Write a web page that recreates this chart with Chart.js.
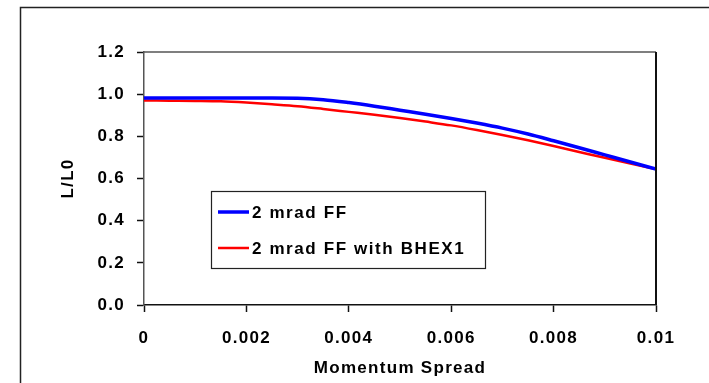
<!DOCTYPE html>
<html>
<head>
<meta charset="utf-8">
<script src="https://cdn.jsdelivr.net/npm/chart.js@4.4.1/dist/chart.umd.min.js"></script>
<style>
html,body{margin:0;padding:0;background:#fff;}
#wrap{width:709px;height:383px;position:relative;}
</style>
</head>
<body>
<div id="wrap"><canvas id="c" width="709" height="383"></canvas></div>
<script>
const momentumSpread = [0,0.0005,0.001,0.0015,0.002,0.0025,0.003,0.0035,0.004,0.0045,0.005,0.0055,0.006,0.0065,0.007,0.0075,0.008,0.0085,0.009,0.0095,0.01];
const ff2mrad = [0.982,0.982,0.982,0.982,0.982,0.982,0.981,0.974,0.960,0.943,0.924,0.905,0.885,0.863,0.839,0.811,0.779,0.746,0.712,0.678,0.645];
const ff2mradBhex1 = [0.970,0.969,0.968,0.966,0.960,0.952,0.943,0.930,0.916,0.902,0.887,0.870,0.852,0.830,0.806,0.781,0.754,0.726,0.698,0.671,0.645];
const xTickLabels = ['0','0.002','0.004','0.006','0.008','0.01'];
const yTickLabels = ['0.0','0.2','0.4','0.6','0.8','1.0','1.2'];
const seriesNames = ['2 mrad FF','2 mrad FF with BHEX1'];
const xTitle = 'Momentum Spread';
const yTitle = 'L/L0';

const FONT = '"Liberation Sans", Arial, sans-serif';
const SPACING = '1.3px';

const framePlugin = {
  id: 'frame',
  beforeDraw(chart) {
    const ctx = chart.ctx;
    ctx.letterSpacing = SPACING;
    ctx.save();
    ctx.fillStyle = '#fff';
    ctx.fillRect(0, 0, chart.width, chart.height);
    ctx.strokeStyle = '#222';
    ctx.lineWidth = 1.5;
    ctx.strokeRect(20.5, 7.5, 720, 400);
    ctx.restore();
  },
  afterDatasetsDraw(chart) {
    const ctx = chart.ctx;
    const a = chart.chartArea;
    ctx.save();
    ctx.lineWidth = 1.5;
    ctx.strokeStyle = '#555';
    ctx.beginPath();
    ctx.moveTo(a.left, a.top);
    ctx.lineTo(a.right, a.top);
    ctx.stroke();
    ctx.strokeStyle = '#111';
    ctx.lineWidth = 2;
    ctx.beginPath();
    ctx.moveTo(a.right, a.top);
    ctx.lineTo(a.right, a.bottom);
    ctx.stroke();
    ctx.restore();
  },
  afterDraw(chart) {
    const ctx = chart.ctx;
    ctx.save();
    ctx.letterSpacing = '1.6px';
    const bx = 211, by = 191, bw = 274, bh = 77;
    ctx.fillStyle = '#fff';
    ctx.fillRect(bx, by, bw, bh);
    ctx.strokeStyle = '#222';
    ctx.lineWidth = 1.2;
    ctx.strokeRect(bx + 0.5, by + 0.5, bw, bh);
    const rows = [212, 248];
    chart.data.datasets.forEach((ds, i) => {
      const y = rows[i];
      ctx.strokeStyle = ds.borderColor;
      ctx.lineWidth = ds.borderWidth;
      ctx.beginPath();
      ctx.moveTo(218, y);
      ctx.lineTo(249, y);
      ctx.stroke();
      ctx.fillStyle = '#000';
      ctx.font = 'bold 17px ' + FONT;
      ctx.textBaseline = 'middle';
      ctx.textAlign = 'left';
      ctx.fillText(ds.label, 252, y + 1);
    });
    ctx.restore();
  }
};

new Chart(document.getElementById('c'), {
  type: 'line',
  data: {
    datasets: [
      {
        label: seriesNames[0],
        data: momentumSpread.map((x, i) => ({x: x, y: ff2mrad[i]})),
        borderColor: '#0000ff',
        borderWidth: 3.5,
        pointRadius: 0,
        cubicInterpolationMode: 'monotone',
        fill: false
      },
      {
        label: seriesNames[1],
        data: momentumSpread.map((x, i) => ({x: x, y: ff2mradBhex1[i]})),
        borderColor: '#ff0000',
        borderWidth: 2.5,
        pointRadius: 0,
        cubicInterpolationMode: 'monotone',
        fill: false
      }
    ]
  },
  options: {
    responsive: false,
    animation: false,
    devicePixelRatio: 1,
    layout: { padding: { left: 53, right: 53, top: 52, bottom: 0 } },
    plugins: { legend: { display: false }, tooltip: { enabled: false } },
    scales: {
      x: {
        type: 'linear',
        min: 0, max: 0.01,
        afterFit(s) { s.height = 78; },
        afterBuildTicks(s) { s.ticks = xTickLabels.map(t => ({value: parseFloat(t)})); },
        ticks: {
          color: '#000',
          font: { family: FONT, size: 17, weight: 'bold' },
          padding: 16,
          maxRotation: 0,
          autoSkip: false,
          callback: (v, i) => xTickLabels[i]
        },
        grid: { drawOnChartArea: false, drawTicks: true, tickLength: 7, tickColor: '#111', tickWidth: 1.5 },
        border: { display: true, color: '#111', width: 1.5 },
        title: { display: true, text: xTitle, color: '#000', font: { family: FONT, size: 17, weight: 'bold' }, padding: 4 }
      },
      y: {
        type: 'linear',
        min: 0, max: 1.2,
        afterFit(s) { s.width = 91; },
        afterBuildTicks(s) { s.ticks = yTickLabels.map(t => ({value: parseFloat(t)})); },
        ticks: {
          color: '#000',
          font: { family: FONT, size: 17, weight: 'bold' },
          padding: 12,
          autoSkip: false,
          callback: (v, i) => yTickLabels[i]
        },
        grid: { drawOnChartArea: false, drawTicks: true, tickLength: 7, tickColor: '#111', tickWidth: 1.5 },
        border: { display: true, color: '#555', width: 1.5 },
        title: { display: true, text: yTitle, color: '#000', font: { family: FONT, size: 17, weight: 'bold' }, padding: 5 }
      }
    }
  },
  plugins: [framePlugin]
});
</script>
</body>
</html>
